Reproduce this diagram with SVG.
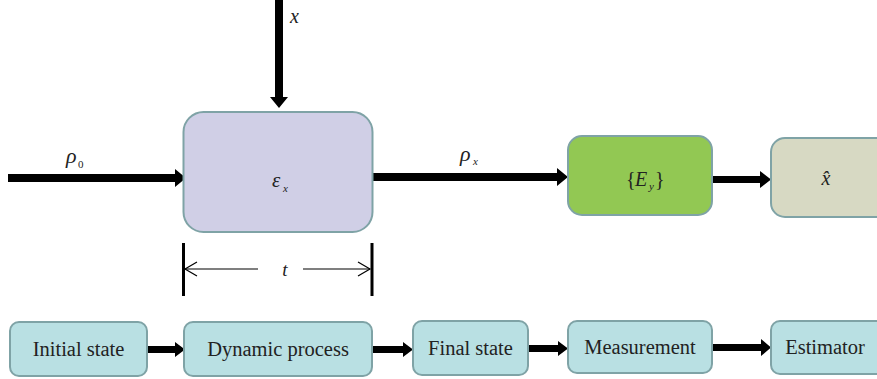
<svg xmlns="http://www.w3.org/2000/svg" width="877" height="379" viewBox="0 0 877 379">
<style>
.box{stroke:#7fa3a6;stroke-width:2}
.lbl{font-family:"Liberation Serif","Times New Roman",serif;font-size:20.5px;fill:#222;text-anchor:middle}
.m{font-family:"Liberation Serif","Times New Roman","DejaVu Serif",serif;font-style:italic;fill:#222}
.n{font-family:"Liberation Serif","Times New Roman","DejaVu Serif",serif;font-style:normal;fill:#222}
.shaft{fill:#000}
.thin{stroke:#000;stroke-width:1.2;fill:none}
.bar{stroke:#000;stroke-width:3}
</style>
<rect width="877" height="379" fill="#fff"/>
<g id="connectors">
  <polygon class="shaft" points="275,0 283,0 283,97 288,97 279,108 270,97 275,97"/>
  <polygon class="shaft" points="8,174 175,174 175,169 186,178 175,187 175,182 8,182"/>
  <polygon class="shaft" points="373,173 557,173 557,168 568,177 557,186 557,181 373,181"/>
  <polygon class="shaft" points="713,176 760,176 760,171 771,179.5 760,188 760,183 713,183"/>
  <line class="bar" x1="183.5" y1="243" x2="183.5" y2="296"/>
  <line class="bar" x1="372" y1="243" x2="372" y2="296"/>
  <line class="thin" x1="185" y1="269" x2="258" y2="269"/>
  <line class="thin" x1="303" y1="269" x2="370" y2="269"/>
  <polyline class="thin" points="197,262 185,269 197,276"/>
  <polyline class="thin" points="358,262 370,269 358,276"/>
  <polygon class="shaft" points="147,346 175,346 175,342 185,349.5 175,357 175,353 147,353"/>
  <polygon class="shaft" points="373,346 403,346 403,342 413,349.5 403,357 403,353 373,353"/>
  <polygon class="shaft" points="528,345 558,345 558,341 568,348.5 558,356 558,352 528,352"/>
  <polygon class="shaft" points="712,344 761,344 761,339 771,347.5 761,356 761,351 712,351"/>
</g>
<g id="labels">
  <text class="m" x="290" y="23" font-size="20">x</text>
  <text class="m" x="66" y="163" font-size="22">ρ</text>
  <text class="n" x="78" y="168" font-size="11">0</text>
  <text class="m" x="460" y="161" font-size="22">ρ</text>
  <text class="m" x="473" y="165" font-size="11">x</text>
  <text class="m" x="285" y="276" font-size="19" text-anchor="middle">t</text>
</g>
<g id="process">
  <rect class="box" x="183.5" y="112" width="189" height="120" rx="20" fill="#d0cfe6"/>
  <text class="m" x="272" y="187" font-size="21">ε</text>
  <text class="m" x="283" y="192" font-size="11">x</text>
</g>
<g id="measure">
  <rect class="box" x="568" y="136" width="144" height="79" rx="14" fill="#92c853"/>
  <text class="n" x="626" y="186" font-size="20">{</text>
  <text class="m" x="635" y="186" font-size="20">E</text>
  <text class="m" x="649" y="190" font-size="11">y</text>
  <text class="n" x="655" y="186" font-size="20">}</text>
</g>
<g id="estimate">
  <rect class="box" x="771" y="138" width="120" height="79" rx="14" fill="#d7d9c3"/>
  <text class="m" x="826" y="185" font-size="20" text-anchor="middle">x̂</text>
</g>
<g id="initial-state">
  <rect class="box" x="10" y="322" width="137" height="54" rx="9" fill="#b9e0e3"/>
  <text class="lbl" x="78.5" y="356">Initial state</text>
</g>
<g id="dynamic-process">
  <rect class="box" x="184" y="322" width="188" height="54" rx="9" fill="#b9e0e3"/>
  <text class="lbl" x="278" y="356">Dynamic process</text>
</g>
<g id="final-state">
  <rect class="box" x="413" y="321" width="115" height="54" rx="9" fill="#b9e0e3"/>
  <text class="lbl" x="470.5" y="355">Final state</text>
</g>
<g id="measurement">
  <rect class="box" x="568" y="321" width="144" height="52" rx="9" fill="#b9e0e3"/>
  <text class="lbl" x="640" y="354">Measurement</text>
</g>
<g id="estimator">
  <rect class="box" x="771" y="321" width="120" height="53" rx="9" fill="#b9e0e3"/>
  <text class="lbl" x="825" y="354">Estimator</text>
</g>
</svg>
